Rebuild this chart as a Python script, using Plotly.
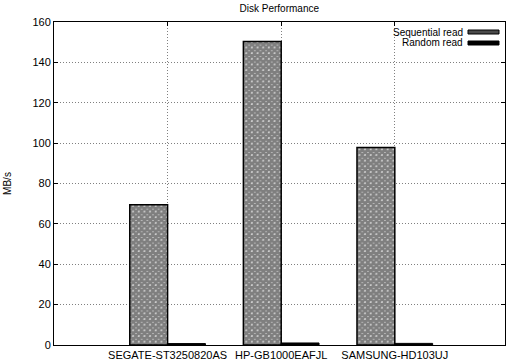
import plotly.graph_objects as go

categories = ["SEGATE-ST3250820AS", "HP-GB1000EAFJL", "SAMSUNG-HD103UJ"]
series_names = ["Sequential read", "Random read"]
seq_read = [69.5, 150.3, 97.8]
rand_read = [0.7, 1.0, 0.8]
y_ticks = [0, 20, 40, 60, 80, 100, 120, 140, 160]

xpos = [1, 2, 3]
bw = 0.333
font = dict(family="Liberation Sans, Arial, sans-serif", size=11, color="black")
seq_pattern = dict(shape="x", fgcolor="black", bgcolor="white", size=4, solidity=0.9, fillmode="overlay")

fig = go.Figure()
fig.add_trace(go.Bar(
    x=[p - bw / 2 for p in xpos], y=seq_read, width=bw, name=series_names[0],
    marker=dict(color="white", line=dict(color="black", width=1.5), pattern=seq_pattern),
    showlegend=False,
))
fig.add_trace(go.Bar(
    x=[p + bw / 2 for p in xpos], y=rand_read, width=bw, name=series_names[1],
    marker=dict(color="black", line=dict(color="black", width=1)),
    showlegend=False,
))

# plot area in pixels: left 54, right 505, top 22, bottom 345
L, R, T, B = 54, 505, 22, 345
def px(X):
    return (X - L) / (R - L)
def py(Y):
    return (B - Y) / (B - T)

shapes = [
    dict(type="rect", xref="paper", yref="paper", layer="between",
         x0=px(385), x1=px(504), y0=py(47), y1=py(23),
         fillcolor="white", line=dict(width=0)),
    dict(type="rect", xref="paper", yref="paper", layer="above",
         x0=px(468), x1=px(499), y0=py(34), y1=py(30),
         fillcolor="#4a4a4a", line=dict(color="black", width=1)),
    dict(type="rect", xref="paper", yref="paper", layer="above",
         x0=px(468), x1=px(499), y0=py(45), y1=py(41),
         fillcolor="black", line=dict(color="black", width=1)),
]
annotations = [
    dict(text=series_names[0], xref="paper", yref="paper", x=px(464), y=py(32),
         xanchor="right", yanchor="middle", showarrow=False, font=dict(size=10), borderpad=0),
    dict(text=series_names[1], xref="paper", yref="paper", x=px(464), y=py(43),
         xanchor="right", yanchor="middle", showarrow=False, font=dict(size=10), borderpad=0),
]

grid = dict(showgrid=True, gridcolor="#808080", griddash="1px,2px", gridwidth=1,
            showline=True, linecolor="black", linewidth=1, mirror="ticks",
            ticks="inside", ticklen=4, tickcolor="black", zeroline=False,
            tickfont=dict(size=11))

fig.update_layout(
    width=506, height=364,
    margin=dict(l=L, r=506 - R, t=T, b=364 - B),
    paper_bgcolor="white", plot_bgcolor="white",
    font=font,
    title=dict(text="Disk Performance", x=0.552, xanchor="center", y=0.985, yanchor="top", font=dict(size=10)),
    barmode="overlay",
    showlegend=False,
    shapes=shapes,
    annotations=annotations,
    xaxis=dict(range=[0, 3.97], tickmode="array", tickvals=xpos, ticktext=categories, **grid),
    yaxis=dict(range=[0, 160], tickmode="array", tickvals=y_ticks,
               title=dict(text="MB/s", standoff=18, font=dict(size=10)), **grid),
)

fig.write_html("out.html")
